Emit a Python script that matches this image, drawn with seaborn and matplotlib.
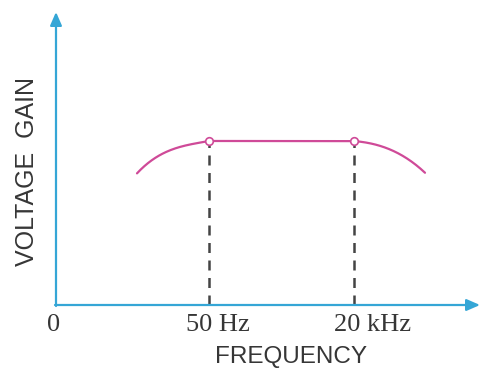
import numpy as np
import pandas as pd
import seaborn as sns
import matplotlib.pyplot as plt

# frequency response (x: frequency position, y: gain)
left_pos = [81, 88, 94, 100, 107, 115, 124, 133, 141, 147, 153]
left_gain = [132, 138, 143, 148, 152, 155, 158, 160, 162, 163, 164]
right_pos = [298, 305, 313, 322, 330, 339, 347, 356, 363, 369]
right_gain = [164, 163, 162, 160, 157, 153, 149, 143, 138, 132]

# cut-off points
cut_pos = [153, 298]
cut_gain = [164, 164]
cut_labels = ["50 Hz", "20 kHz"]

df = pd.DataFrame({"freq": left_pos + right_pos, "gain": left_gain + right_gain})

sns.set_style("white")
plt.rcParams['font.family'] = ['Liberation Sans', 'DejaVu Sans']

axis_col = "#35a6d6"
curve_col = "#cf4a98"
text_col = "#363636"

fig = plt.figure(figsize=(4.89, 3.70), dpi=100)
ax = fig.add_axes([0, 0, 1, 1])
ax.set_xlim(-56, 433)
ax.set_ylim(-65, 305)
ax.axis("off")

# smooth each roll-off through the read points, flat part in between
parts = []
for px, py in [(left_pos, left_gain), (right_pos, right_gain)]:
    c = np.polyfit(px, py, 3)
    xs = np.linspace(px[0], px[-1], 80)
    parts.append((xs, np.polyval(c, xs)))
xs = np.concatenate([parts[0][0], parts[1][0]])
ys = np.concatenate([parts[0][1], parts[1][1]])
sns.lineplot(x=xs, y=ys, ax=ax, color=curve_col, lw=1.6, zorder=3, sort=False)

# dashed drop lines
for xp, yp in zip(cut_pos, cut_gain):
    ax.plot([xp, xp], [0, yp], color="#444444", lw=1.8, ls=(0, (4, 3)), zorder=2)

sns.scatterplot(x=cut_pos, y=cut_gain, ax=ax, s=30, facecolor="white",
                edgecolor=curve_col, linewidth=1.2, zorder=4)

# axes with arrowheads
ax.annotate("", xy=(0, 293), xytext=(0, -1),
            arrowprops=dict(arrowstyle="-|>,head_length=0.8,head_width=0.35",
                            color=axis_col, lw=1.6, shrinkA=0, shrinkB=0))
ax.annotate("", xy=(424, 0), xytext=(-1, 0),
            arrowprops=dict(arrowstyle="-|>,head_length=0.8,head_width=0.35",
                            color=axis_col, lw=1.6, shrinkA=0, shrinkB=0))

# labels
ax.text(-2, -20, "0", family="Liberation Serif", fontsize=19, ha="center",
        va="center", color=text_col)
for xp, lab, dx in zip(cut_pos, cut_labels, [9, 19]):
    ax.text(xp + dx, -20, lab, family="Liberation Serif", fontsize=19,
            ha="center", va="center", color=text_col)
ax.text(235, -52, "FREQUENCY", fontsize=17.5, ha="center", va="center",
        color=text_col)
ax.text(-29, 134, "VOLTAGE  GAIN", fontsize=18, rotation=90, ha="center",
        va="center", color=text_col)

fig.savefig("out.png", dpi=100)
